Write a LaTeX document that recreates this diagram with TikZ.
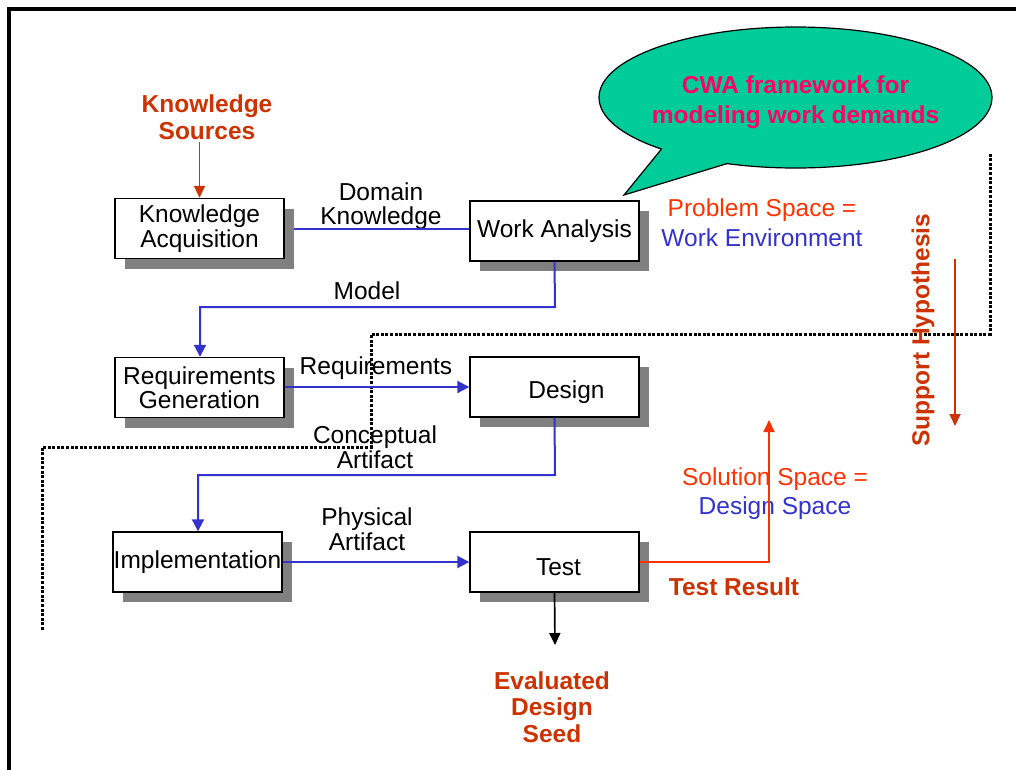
\documentclass[tikz,border=0pt]{standalone}
\usepackage{fontspec}
\setmainfont{Liberation Sans}
\usetikzlibrary{arrows.meta,shadows}
\definecolor{brick}{HTML}{CC3300}
\definecolor{orred}{HTML}{FF3300}
\definecolor{flowblue}{HTML}{3333CC}
\definecolor{teal2}{HTML}{00CC99}
\definecolor{cwapink}{HTML}{FF0066}
\definecolor{shadowgray}{HTML}{808080}
\tikzset{
  basefont/.style={font=\fontsize{24.5}{24.5}\selectfont},
  box/.style={basefont, draw=black, line width=1.4pt, fill=white, minimum width=169pt, minimum height=60pt, inner sep=0pt, align=center,
    general shadow={shadow xshift=9.5pt, shadow yshift=-10pt, fill=shadowgray}},
  lbl/.style={basefont, align=center, inner sep=0pt},
  redbold/.style={lbl, text=brick, font=\fontsize{24.5}{26.5}\selectfont\bfseries},
  flow/.style={draw=flowblue, line width=2pt},
  flowarrow/.style={flow, -{Triangle[length=12pt,width=12pt]}},
  redarrow/.style={draw=brick, line width=1.8pt, -{Triangle[length=12pt,width=11pt]}},
  blackarrow/.style={draw=black, line width=1.7pt, -{Triangle[length=12pt,width=11pt]}},
  dotline/.style={draw=black, line width=3pt, dash pattern=on 3pt off 1.6pt},
}
\begin{document}
\begin{tikzpicture}[x=1pt, y=-1pt]
\useasboundingbox (0,0) rectangle (1016,769);
\fill[white] (0,0) rectangle (1016,769);
% frame
\draw[line width=3.3pt] (9,775) -- (9,9) -- (1022,9);

% dotted separator
\draw[dotline] (42,630) -- (42,447) -- (371,447) -- (371,334) -- (990,334) -- (990,153);

% callout
\draw[fill=teal2, line width=1.2pt] (795.5,97.5) ellipse [x radius=196.5pt, y radius=70.5pt];
\fill[teal2] (661.5,149) -- (624,195) -- (727,163.6) -- (700,130) -- cycle;
\draw[line width=1.2pt, line join=miter] (661.5,149) -- (624,195) -- (727,163.6);
\node[lbl, text=cwapink, font=\fontsize{24.5}{29.5}\selectfont\bfseries] (cwa) at (795.5,102) {CWA framework for\\modeling work demands};

% boxes
\node[box] (ka) at (199.5,228.5) {Knowledge\\Acquisition};
\node[box] (wa) at (554.5,231) {Work Analysis};
\node[box] (rg) at (199.5,387.5) {Requirements\\Generation};
\node[box] (de) at (554.5,387) {\raisebox{-5pt}[\height][\depth]{\hspace*{24pt}Design}};
\node[box] (im) at (197.5,562) {Implementation};
\node[box] (te) at (554.5,562) {\raisebox{-5pt}[\height][\depth]{\hspace*{8pt}Test}};

% labels
\node[redbold] (ks) at (207,117) {Knowledge\\Sources};
\node[lbl] (dk) at (381,206) {Domain\\Knowledge};
\node[lbl] (mo) at (367,291) {Model};
\node[lbl] (rq) at (376,368) {Requirements};
\node[lbl] (ca) at (375,447) {Conceptual\\Artifact};
\node[lbl] (pa) at (367,529) {Physical\\Artifact};
\node[redbold] (tr) at (734,587) {Test Result};
\node[redbold] (ed) at (552,707) {Evaluated\\Design\\Seed};
\node[lbl, font=\fontsize{24.5}{30}\selectfont] (ps) at (762,223) {\textcolor{orred}{Problem Space =}\\\textcolor{flowblue}{Work Environment}};
\node[lbl, font=\fontsize{24.5}{29}\selectfont] (ss) at (775,493.5) {\textcolor{orred}{Solution Space =}\\\textcolor{flowblue}{Design Space}};
\node[redbold, rotate=90] (sh) at (923,330) {Support Hypothesis};

% connectors
\coordinate (shtop) at (955,259);
\coordinate (shbot) at (955,426);
\draw[redarrow] (shtop) -- (shbot);
\draw[redarrow] (ka.north |- 0,142) -- (ka.north);
\draw[flow] ([xshift=9.5pt]ka.east |- 0,229) -- (wa.west |- 0,229);
\draw[flowarrow] (wa.south) -- (555,307) -- (200,307) -- (rg.north -| 200,0);
\draw[flowarrow] (rg.east |- 0,387) -- (de.west |- 0,387);
\draw[flowarrow] (de.south) -- (555,475) -- (198,475) -- (im.north -| 198,0);
\draw[flowarrow] (im.east) -- (te.west);
\coordinate (trtip) at (769,420);
\draw[redarrow, draw=orred!80!brick] (te.east) -- (769,562) -- (trtip);
\coordinate (edtip) at (555,645);
\draw[blackarrow] (te.south) -- (edtip);
\end{tikzpicture}
\end{document}
